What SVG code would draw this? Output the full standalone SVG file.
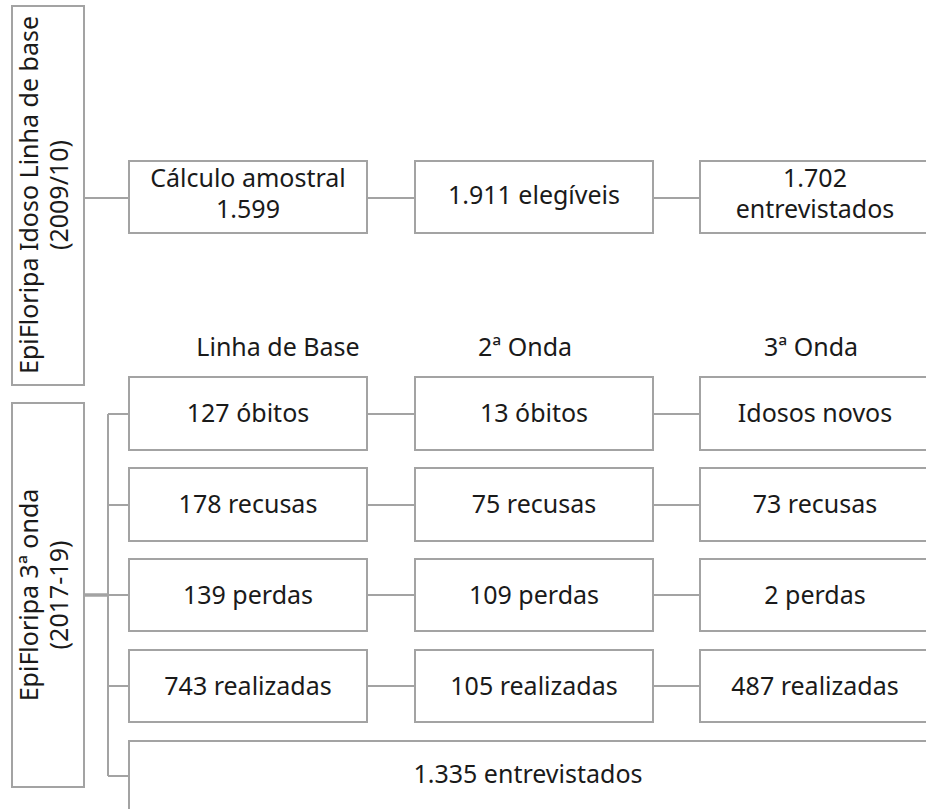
<svg xmlns="http://www.w3.org/2000/svg" width="926" height="809" viewBox="0 0 926 809">
<style>
.box{fill:#fff;stroke:#a3a3a3;stroke-width:2}
.conn{fill:none;stroke:#a3a3a3;stroke-width:2}
text{font-family:"Noto Sans","Open Sans",sans-serif;font-size:25px;fill:#1a1a1a;text-anchor:middle}
</style>
<rect width="926" height="809" fill="#fff"/>
<g id="connectors">
<line class="conn" x1="84" y1="198" x2="129" y2="198"/>
<line class="conn" x1="367" y1="198" x2="415" y2="198"/>
<line class="conn" x1="653" y1="198" x2="700" y2="198"/>
<line class="conn" x1="84" y1="595" x2="108" y2="595" style="stroke-width:3.5"/>
<line class="conn" x1="108" y1="414" x2="108" y2="776"/>
<line class="conn" x1="108" y1="414" x2="129" y2="414"/>
<line class="conn" x1="108" y1="505" x2="129" y2="505"/>
<line class="conn" x1="108" y1="595" x2="129" y2="595"/>
<line class="conn" x1="108" y1="686" x2="129" y2="686"/>
<line class="conn" x1="108" y1="776" x2="129" y2="776"/>
<line class="conn" x1="367" y1="414" x2="415" y2="414"/>
<line class="conn" x1="653" y1="414" x2="700" y2="414"/>
<line class="conn" x1="367" y1="505" x2="415" y2="505"/>
<line class="conn" x1="653" y1="505" x2="700" y2="505"/>
<line class="conn" x1="367" y1="595" x2="415" y2="595"/>
<line class="conn" x1="653" y1="595" x2="700" y2="595"/>
<line class="conn" x1="367" y1="686" x2="415" y2="686"/>
<line class="conn" x1="653" y1="686" x2="700" y2="686"/>
</g>
<g id="baseline-study">
<rect class="box" x="12" y="6" width="72" height="379"/>
<text transform="translate(38,195) rotate(-90)">EpiFloripa Idoso Linha de base</text>
<text transform="translate(68,195) rotate(-90)">(2009/10)</text>
</g>
<g id="wave3-study">
<rect class="box" x="12" y="403" width="72" height="384"/>
<text transform="translate(38,595) rotate(-90)">EpiFloripa 3ª onda</text>
<text transform="translate(68,595) rotate(-90)">(2017-19)</text>
</g>
<g id="calculo">
<rect class="box" x="129" y="161" width="238" height="72"/>
<text x="248" y="187">Cálculo amostral</text>
<text x="248" y="218">1.599</text>
</g>
<g id="elegiveis">
<rect class="box" x="415" y="161" width="238" height="72"/>
<text x="534" y="204">1.911 elegíveis</text>
</g>
<g id="entrevistados-base">
<rect class="box" x="700" y="161" width="232" height="72"/>
<text x="815" y="187">1.702</text>
<text x="815" y="218">entrevistados</text>
</g>
<g id="headers">
<text x="278" y="356">Linha de Base</text>
<text x="525" y="356">2ª Onda</text>
<text x="811" y="356">3ª Onda</text>
</g>
<g id="obitos-lb"><rect class="box" x="129" y="377" width="238" height="73"/><text x="248" y="422">127 óbitos</text></g>
<g id="obitos-2"><rect class="box" x="415" y="377" width="238" height="73"/><text x="534" y="422">13 óbitos</text></g>
<g id="idosos-novos"><rect class="box" x="700" y="377" width="232" height="73"/><text x="815" y="422">Idosos novos</text></g>
<g id="recusas-lb"><rect class="box" x="129" y="468" width="238" height="73"/><text x="248" y="513">178 recusas</text></g>
<g id="recusas-2"><rect class="box" x="415" y="468" width="238" height="73"/><text x="534" y="513">75 recusas</text></g>
<g id="recusas-3"><rect class="box" x="700" y="468" width="232" height="73"/><text x="815" y="513">73 recusas</text></g>
<g id="perdas-lb"><rect class="box" x="129" y="559" width="238" height="72"/><text x="248" y="604">139 perdas</text></g>
<g id="perdas-2"><rect class="box" x="415" y="559" width="238" height="72"/><text x="534" y="604">109 perdas</text></g>
<g id="perdas-3"><rect class="box" x="700" y="559" width="232" height="72"/><text x="815" y="604">2 perdas</text></g>
<g id="realizadas-lb"><rect class="box" x="129" y="650" width="238" height="72"/><text x="248" y="695">743 realizadas</text></g>
<g id="realizadas-2"><rect class="box" x="415" y="650" width="238" height="72"/><text x="534" y="695">105 realizadas</text></g>
<g id="realizadas-3"><rect class="box" x="700" y="650" width="232" height="72"/><text x="815" y="695">487 realizadas</text></g>
<g id="entrevistados-total"><rect class="box" x="129" y="741" width="803" height="80"/><text x="528" y="783">1.335 entrevistados</text></g>
</svg>
